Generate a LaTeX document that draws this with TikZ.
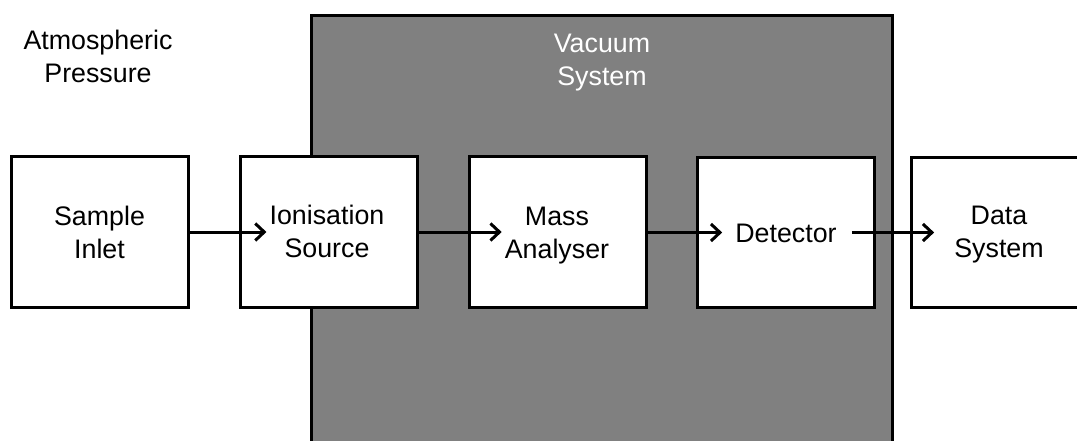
\documentclass[tikz,border=0pt]{standalone}
\usepackage{fontspec}
\setmainfont{Liberation Sans}
\usetikzlibrary{arrows.meta}
\definecolor{vacgray}{HTML}{808080}
\tikzset{
  stage/.style={draw=black, fill=white, line width=3pt, minimum width=177pt, minimum height=150pt, inner sep=0pt},
  lbl/.style={align=center, inner sep=0pt, font=\fontsize{26.8}{33}\selectfont},
  flow/.style={line width=3pt, -{Straight Barb[length=9pt,width=17pt,line width=3pt]}},
}
\begin{document}
\begin{tikzpicture}[x=1pt,y=-1pt]
  \useasboundingbox (0,0) rectangle (1077,441);
  \clip (0,0) rectangle (1077,441);
  % vacuum region
  \filldraw[fill=vacgray, draw=black, line width=3pt] (311,16) rectangle (892,470);
  \node[lbl, text=white] (vac) at (602,62) {\strut Vacuum\\\strut System};
  \node[lbl] (atm) at (98,59.5) {\strut Atmospheric\\\strut Pressure};
  % stages
  \node[stage] (inlet) at (99.5,232) {};
  \node[stage] (ion) at (328.5,232) {};
  \node[stage] (mass) at (558,232) {};
  \node[stage] (det) at (786,232.5) {};
  \node[stage] (data) at (999.5,232.5) {};
  \node[lbl] (inletL) at (99.5,235) {\strut Sample\\\strut Inlet};
  \node[lbl] (ionL) at (327,234.5) {\strut Ionisation\\\strut Source};
  \node[lbl] (massL) at (557,235) {\strut Mass\\\strut Analyser};
  \node[lbl] (detL) at (786,235.4) {\strut Detector};
  \node[lbl] (dataL) at (999,234.5) {\strut Data\\\strut System};
  % connectors
  \draw[flow, shorten >=3pt] (inlet.east) -- (inlet.east -| ionL.west);
  \draw[flow, shorten >=3pt] (ion.east) -- (ion.east -| massL.west);
  \draw[flow, shorten >=13pt] (mass.east |- det.center) -- (det.center -| detL.west);
  \draw[flow, shorten <=15pt, shorten >=20pt] (det.center -| detL.east) -- (det.center -| dataL.west);
\end{tikzpicture}
\end{document}
